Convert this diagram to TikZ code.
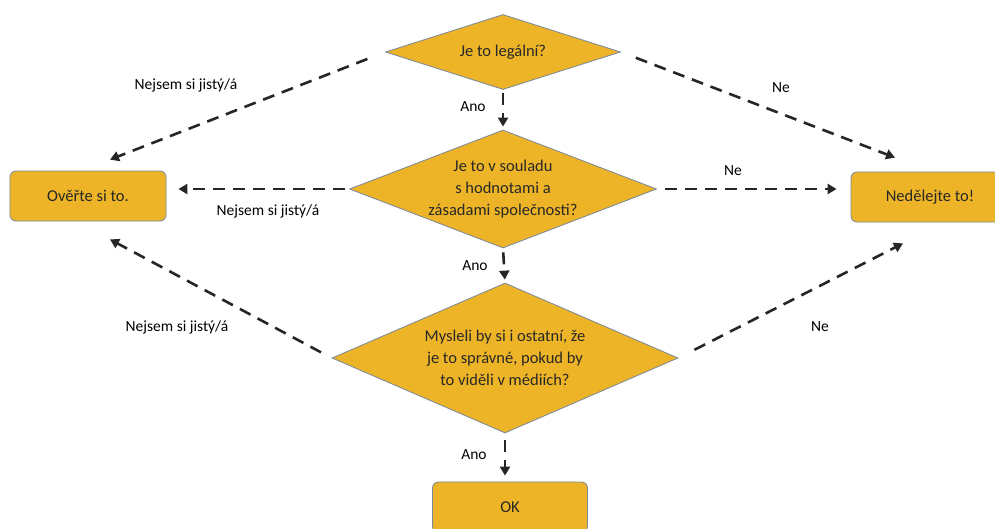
\documentclass[tikz,border=0pt]{standalone}
\usepackage{fontspec}
\setmainfont{Carlito}
\usetikzlibrary{shapes.geometric,arrows.meta}
\definecolor{gold}{RGB}{236,180,38}
\definecolor{edge}{RGB}{120,135,155}
\definecolor{ink}{RGB}{40,40,40}
\begin{document}
\begin{tikzpicture}[x=1pt,y=-1pt,
  dia/.style={diamond,draw=edge,line width=0.8pt,fill=gold,inner sep=0pt},
  dtext/.style={align=center,font=\fontsize{16.5}{22}\selectfont,text=ink},
  box/.style={rectangle,rounded corners=6pt,draw=edge,line width=0.8pt,fill=gold,
    font=\fontsize{16.5}{20}\selectfont,text=ink},
  lbl/.style={font=\fontsize{15.5}{18}\selectfont,text=black},
  arr/.style={line width=2.6pt,draw=black!85,dash pattern=on 12pt off 8pt,
    -{Triangle[length=9pt,width=10pt]}}]
\useasboundingbox (0,0) rectangle (995,528);
\fill[white] (0,0) rectangle (995,528);
% nodes
\node[dia,minimum width=235pt,minimum height=75pt] (d1) at (503,52) {};
\node[dtext] at (d1) {Je to legální?};
\node[dia,minimum width=307pt,minimum height=118pt] (d2) at (503,189) {};
\node[dtext] at (d2) {Je to v souladu\\s hodnotami a\\zásadami společnosti?};
\node[dia,minimum width=346pt,minimum height=150pt] (d3) at (505,358) {};
\node[dtext] at (d3) {Mysleli by si i ostatní, že\\je to správné, pokud by\\to viděli v médiích?};
\node[box,minimum width=156pt,minimum height=50pt] (ov) at (88,196) {Ověřte si to.};
\node[box,minimum width=158pt,minimum height=50pt] (ned) at (930,197) {Nedělejte to!};
\node[box,minimum width=155pt,minimum height=50pt] (ok) at (510,507) {OK};
% connectors
\draw[arr,shorten <=19pt,shorten >=0pt] (d1.west) -- ([xshift=22pt,yshift=11pt]ov.north);
\draw[arr,shorten <=16pt] (d1.east) -- ([xshift=-35pt,yshift=14pt]ned.north);
\draw[arr,shorten <=3pt,shorten >=3pt] (d1.south) -- (d2.north);
\draw[arr,shorten <=4pt,shorten >=12pt] (d2.west) -- (d2.west -| ov.east);
\draw[arr,shorten <=8pt,shorten >=14pt] (d2.east) -- (d2.east -| ned.west);
\draw[arr,shorten <=4pt,shorten >=3pt] (d2.south) -- (d3.north);
\draw[arr,shorten <=12pt] (d3.west) -- ([xshift=22pt,yshift=-18pt]ov.south);
\draw[arr,shorten <=18pt] (d3.east) -- ([xshift=-27pt,yshift=-21pt]ned.south);
\draw[arr,shorten <=7pt,shorten >=6pt] (d3.south) -- (d3.south |- ok.north);
% labels
\node[lbl] (l1) at (186,85) {Nejsem si jistý/á};
\node[lbl] (l2) at (781,88) {Ne};
\node[lbl] (l3) at (473,107) {Ano};
\node[lbl] (l4) at (268,211) {Nejsem si jistý/á};
\node[lbl] (l5) at (733,171) {Ne};
\node[lbl] (l6) at (475,266) {Ano};
\node[lbl] (l7) at (177,327) {Nejsem si jistý/á};
\node[lbl] (l8) at (820,327) {Ne};
\node[lbl] (l9) at (474,455) {Ano};
\end{tikzpicture}
\end{document}
